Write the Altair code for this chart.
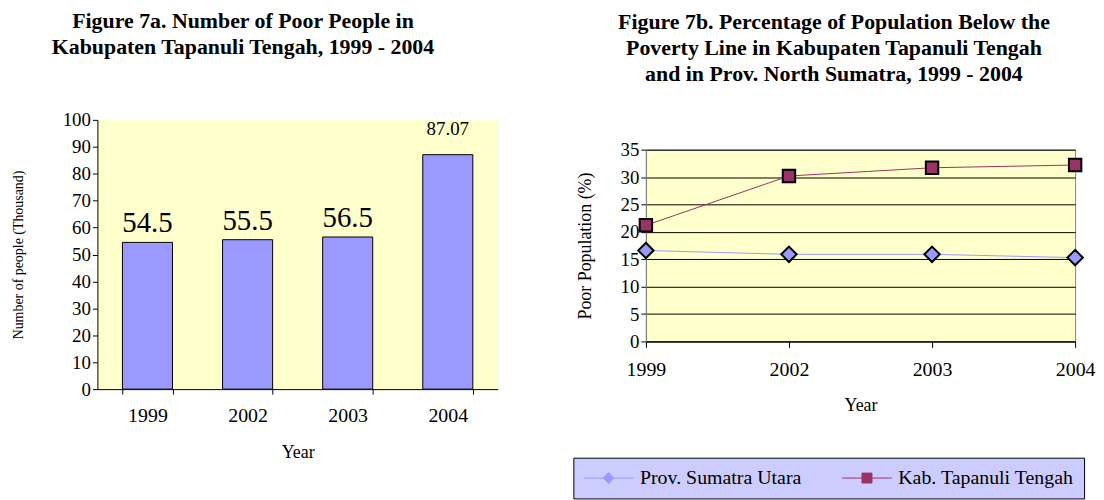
import altair as alt
import pandas as pd

# ---- data ----
years = ["1999", "2002", "2003", "2004"]
poor_people = [54.5, 55.5, 56.5, 87.07]
prov_pct = [16.6, 15.9, 15.9, 15.3]
kab_pct = [21.2, 30.2, 31.7, 32.2]
series_names = ["Prov. Sumatra Utara", "Kab. Tapanuli Tengah"]
left_ticks = [0, 10, 20, 30, 40, 50, 60, 70, 80, 90, 100]
right_ticks = [0, 5, 10, 15, 20, 25, 30, 35]

FONT = "Liberation Serif"
BAR_BLUE = "#9999FF"
MAROON = "#993366"
BG = "#FFFFCC"

bars_df = pd.DataFrame({"year": years, "people": poor_people})
line_df = pd.DataFrame({
    "year": years * 2,
    "series": [series_names[0]] * 4 + [series_names[1]] * 4,
    "pct": prov_pct + kab_pct,
})

# ---------------- left chart ----------------
x_left = alt.X(
    "year:N", sort=years, title="Year",
    scale=alt.Scale(paddingInner=0.5, paddingOuter=0.25),
    axis=alt.Axis(labelAngle=0, tickBand="extent", tickSize=5, tickColor="black",
                  domainColor="black", labelFontSize=20, labelPadding=12,
                  titleFontSize=18, titlePadding=18),
)
y_left = alt.Y(
    "people:Q", title="Number of people (Thousand)",
    scale=alt.Scale(domain=[0, 100], nice=False),
    axis=alt.Axis(values=left_ticks, grid=False, tickSize=5, tickColor="black",
                  domainColor="black", labelFontSize=19, titleFontSize=14,
                  titlePadding=37),
)

bars = alt.Chart(bars_df).mark_bar(fill=BAR_BLUE, stroke="black", strokeWidth=1).encode(
    x=x_left, y=y_left)
labels_big = alt.Chart(bars_df).transform_filter("datum.year != '2004'").mark_text(
    font=FONT, fontSize=29, baseline="alphabetic", dy=-10, color="black").encode(
    x=x_left, y=y_left, text=alt.Text("people:Q"))
labels_small = alt.Chart(bars_df).transform_filter("datum.year == '2004'").mark_text(
    font=FONT, fontSize=19, baseline="alphabetic", dy=-20, color="black").encode(
    x=x_left, y=y_left, text=alt.Text("people:Q"))

left = alt.layer(bars, labels_big, labels_small).properties(
    width=403, height=271,
    title=alt.TitleParams(
        text=["Figure 7a. Number of Poor People in", "Kabupaten Tapanuli Tengah, 1999 - 2004"],
        font=FONT, fontSize=22, fontWeight="bold", lineHeight=26, offset=52,
        anchor="middle", frame="group", dx=-55, color="black"),
    view=alt.ViewBackground(fill=BG, stroke="transparent"),
)

# ---------------- right chart ----------------
x_right = alt.X(
    "year:N", sort=years, title="Year",
    scale=alt.Scale(type="point", padding=0),
    axis=alt.Axis(labelAngle=0, tickSize=6, tickColor="black", domainColor="black",
                  labelFontSize=20, labelPadding=12, titleFontSize=18, titlePadding=18,
                  grid=False),
)
y_right = alt.Y(
    "pct:Q", title="Poor Population (%)",
    scale=alt.Scale(domain=[0, 35], nice=False),
    axis=alt.Axis(values=right_ticks, grid=True, gridColor="black", gridWidth=1,
                  gridOpacity=1, tickSize=5, tickColor="black", domainColor="#808080",
                  labelFontSize=19, titleFontSize=18, titlePadding=26),
)

diamond = "M0,-0.31L0.31,0L0,0.31L-0.31,0Z"
square = "M-0.25,-0.25L0.25,-0.25L0.25,0.25L-0.25,0.25Z"
# legend symbols: line segment + marker
diamond_leg = "M-1,0L-0.22,0M0.22,0L1,0M0,-0.22L0.22,0L0,0.22L-0.22,0Z"
square_leg = "M-1,0L-0.2,0M0.2,0L1,0M-0.2,-0.2L0.2,-0.2L0.2,0.2L-0.2,0.2Z"

is_prov = f"datum.series == '{series_names[0]}'"
is_kab = f"datum.series == '{series_names[1]}'"

line_prov = alt.Chart(line_df).transform_filter(is_prov).mark_line(
    stroke=BAR_BLUE, strokeWidth=1).encode(x=x_right, y=y_right)
line_kab = alt.Chart(line_df).transform_filter(is_kab).mark_line(
    stroke=MAROON, strokeWidth=1).encode(x=x_right, y=y_right)
pts_prov = alt.Chart(line_df).transform_filter(is_prov).mark_point(
    shape=diamond, filled=True, fill=BAR_BLUE, stroke="black", strokeWidth=2,
    size=2500, opacity=1).encode(x=x_right, y=y_right)
pts_kab = alt.Chart(line_df).transform_filter(is_kab).mark_point(
    shape=square, filled=True, fill=MAROON, stroke="black", strokeWidth=2,
    size=2500, opacity=1).encode(x=x_right, y=y_right)

leg = alt.Legend(
    orient="none", legendX=-73, legendY=310, direction="horizontal", title=None,
    padding=10, symbolSize=2500, symbolStrokeWidth=1, labelFont=FONT,
    labelFontSize=20, labelColor="black", labelOffset=6, columnPadding=40,
    clipHeight=21, labelLimit=400, fillColor="#CCCCFF", strokeColor="black",
    symbolOpacity=1,
)
# legend-only layer (draws no marks itself)
legend_layer = alt.Chart(line_df).transform_filter("false").mark_point(
    filled=True, size=2500, strokeWidth=1, opacity=1).encode(
    x=x_right, y=y_right,
    fill=alt.Fill("series:N",
                  scale=alt.Scale(domain=series_names, range=[BAR_BLUE, MAROON]),
                  legend=leg),
    stroke=alt.Stroke("series:N",
                      scale=alt.Scale(domain=series_names, range=[BAR_BLUE, MAROON]),
                      legend=leg),
    shape=alt.Shape("series:N",
                    scale=alt.Scale(domain=series_names, range=[diamond_leg, square_leg]),
                    legend=leg),
)

right_plot = alt.layer(line_prov, line_kab, pts_prov, pts_kab, legend_layer).properties(
    width=432, height=193,
    view=alt.ViewBackground(fill=BG, stroke="#808080"),
)

spacer = alt.Chart(pd.DataFrame({"k": [0]})).mark_point(opacity=0).encode(
    x=alt.value(0), y=alt.value(0)
).properties(width=432, height=19, view=alt.ViewBackground(stroke="transparent"))

right = alt.vconcat(spacer, right_plot, spacing=0).properties(
    title=alt.TitleParams(
        text=["Figure 7b. Percentage of Population Below the",
              "Poverty Line in Kabupaten Tapanuli Tengah",
              "and in Prov. North Sumatra, 1999 - 2004"],
        font=FONT, fontSize=22, fontWeight="bold", lineHeight=26, offset=31,
        anchor="middle", frame="bounds", color="black"),
).resolve_scale(fill="independent", stroke="independent", shape="independent")

chart = alt.hconcat(left, right, spacing=74).properties(
    padding={"left": 3, "top": 0, "right": 0, "bottom": 0}
).resolve_scale(
    fill="independent", stroke="independent", shape="independent"
).configure_axis(
    labelFont=FONT, titleFont=FONT, labelColor="black", titleColor="black",
    titleFontWeight="normal",
).configure_legend(labelFont=FONT).configure_title(font=FONT)

chart.save("out.html", embed_options={"renderer": "svg", "actions": False})
